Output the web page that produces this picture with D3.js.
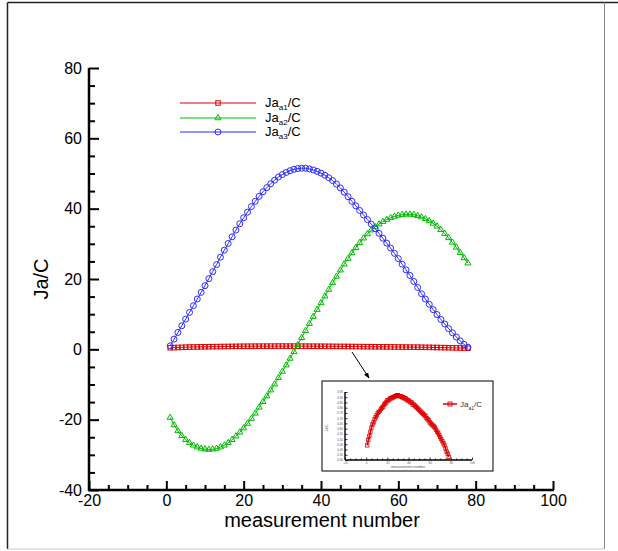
<!DOCTYPE html>
<html>
<head>
<meta charset="utf-8">
<script src="https://cdn.jsdelivr.net/npm/d3@7/dist/d3.min.js"></script>
<style>
  html, body { margin: 0; padding: 0; background: #fff; }
  svg { display: block; font-family: "Liberation Sans", Arial, Helvetica, sans-serif; }
</style>
</head>
<body>
<svg id="chart" width="618" height="551"></svg>
<script>
// measurement numbers 1..78
const measurement = [
  1,2,3,4,5,6,7,8,9,10,11,12,13,14,15,16,17,18,19,20,
  21,22,23,24,25,26,27,28,29,30,31,32,33,34,35,36,37,38,39,40,
  41,42,43,44,45,46,47,48,49,50,51,52,53,54,55,56,57,58,59,60,
  61,62,63,64,65,66,67,68,69,70,71,72,73,74,75,76,77,78
];

// Ja_a1 / C
const jaA1 = [
  0.44,0.49,0.53,0.57,0.61,0.64,0.66,0.69,0.71,0.73,
  0.75,0.76,0.77,0.79,0.80,0.81,0.83,0.84,0.85,0.87,
  0.87,0.88,0.89,0.89,0.90,0.90,0.91,0.91,0.92,0.92,
  0.91,0.91,0.91,0.90,0.90,0.89,0.89,0.88,0.87,0.87,
  0.86,0.85,0.85,0.83,0.83,0.82,0.81,0.80,0.79,0.78,
  0.77,0.76,0.75,0.74,0.73,0.72,0.70,0.69,0.68,0.66,
  0.65,0.64,0.63,0.62,0.61,0.59,0.57,0.56,0.54,0.52,
  0.50,0.48,0.46,0.44,0.41,0.38,0.36,0.33
];

// Ja_a2 / C
const jaA2 = [
  -19.4,-21.5,-23.2,-24.6,-25.7,-26.6,-27.3,-27.8,-28.2,-28.4,
  -28.5,-28.4,-28.2,-27.8,-27.3,-26.6,-25.7,-24.7,-23.6,-22.4,
  -21.1,-19.7,-18.2,-16.5,-14.9,-13.3,-11.6,-9.9,-8.1,-6.3,
  -4.5,-2.6,-0.7,1.3,3.3,5.3,7.3,9.3,11.3,13.2,
  15.1,17.0,18.9,20.7,22.5,24.2,25.8,27.4,28.9,30.3,
  31.6,32.8,33.9,34.8,35.6,36.3,36.9,37.4,37.8,38.1,
  38.3,38.4,38.4,38.3,38.0,37.6,37.1,36.5,35.8,35.0,
  34.0,32.9,31.7,30.4,29.0,27.5,26.0,24.5
];

// Ja_a3 / C
const jaA3 = [
  1.0,2.9,4.8,6.7,8.6,10.5,12.4,14.3,16.2,18.1,
  20.1,22.1,24.1,26.2,28.2,30.1,32.0,33.9,35.7,37.4,
  39.0,40.6,42.1,43.5,44.8,46.0,47.1,48.1,49.0,49.7,
  50.3,50.8,51.2,51.4,51.5,51.5,51.3,51.0,50.6,50.1,
  49.5,48.8,48.0,47.0,45.9,44.7,43.4,42.1,40.8,39.5,
  38.2,36.9,35.6,34.3,33.0,31.6,30.2,28.8,27.3,25.8,
  24.2,22.6,21.0,19.3,17.6,15.8,14.3,12.8,11.3,9.9,
  8.5,7.2,5.9,4.7,3.5,2.4,1.4,0.6
];

const xMajorTicks = [-20, 0, 20, 40, 60, 80, 100];
const yMajorTicks = [-40, -20, 0, 20, 40, 60, 80];
const insetYTicks = [0.30,0.35,0.40,0.45,0.50,0.55,0.60,0.65,0.70,0.75,0.80,0.85,0.90,0.95];

const RED = "#dd0000", GREEN = "#00bb00", BLUE = "#2b2bff";
const plain = d => String(d);

const svg = d3.select("#chart");

// outer frame
svg.append("line").attr("x1", 7.5).attr("x2", 618).attr("y1", 2.5).attr("y2", 2.5)
  .attr("stroke", "#222").attr("stroke-width", 1.5);
svg.append("line").attr("x1", 7.5).attr("x2", 7.5).attr("y1", 2.5).attr("y2", 549)
  .attr("stroke", "#222").attr("stroke-width", 1.5);
svg.append("line").attr("x1", 7.5).attr("x2", 604).attr("y1", 549).attr("y2", 549)
  .attr("stroke", "#ccc").attr("stroke-width", 1);
svg.append("line").attr("x1", 604.5).attr("x2", 604.5).attr("y1", 2.5).attr("y2", 549)
  .attr("stroke", "#888").attr("stroke-width", 1);

const x = d3.scaleLinear().domain([-20, 100]).range([89, 553]);
const y = d3.scaleLinear().domain([-40, 80]).range([490, 68]);

const minorX = d3.range(-20, 101, 5).filter(v => v % 20 !== 0);
const minorY = d3.range(-40, 81, 5).filter(v => v % 20 !== 0);

// y axis: ticks pointing inward
const gy = svg.append("g").attr("transform", `translate(${x(-20)},0)`);
gy.call(d3.axisLeft(y).tickValues(yMajorTicks).tickSizeInner(-10).tickSizeOuter(0).tickPadding(7).tickFormat(plain));
gy.append("g").call(d3.axisLeft(y).tickValues(minorY).tickSizeInner(-6).tickSizeOuter(0).tickFormat(""));
gy.selectAll("path.domain").remove();
gy.selectAll("line").attr("stroke", "#000").attr("stroke-width", 2);
gy.selectAll("text").attr("font-size", 16).attr("fill", "#000")
  .attr("font-family", "Liberation Sans, Arial, sans-serif");

// x axis: ticks pointing inward
const gx = svg.append("g").attr("transform", `translate(0,${y(-40)})`);
gx.call(d3.axisBottom(x).tickValues(xMajorTicks).tickSizeInner(-9).tickSizeOuter(0).tickPadding(5).tickFormat(plain));
gx.append("g").call(d3.axisBottom(x).tickValues(minorX).tickSizeInner(-5).tickSizeOuter(0).tickFormat(""));
gx.selectAll("path.domain").remove();
gx.selectAll("line").attr("stroke", "#000").attr("stroke-width", 2);
gx.selectAll("text").attr("font-size", 16).attr("fill", "#000")
  .attr("font-family", "Liberation Sans, Arial, sans-serif");

// axis lines
svg.append("line").attr("x1", x(-20)).attr("x2", x(-20)).attr("y1", y(80)).attr("y2", y(-40) + 1)
  .attr("stroke", "#000").attr("stroke-width", 2.5);
svg.append("line").attr("x1", x(-20) - 1).attr("x2", x(100) + 1).attr("y1", y(-40)).attr("y2", y(-40))
  .attr("stroke", "#000").attr("stroke-width", 2.5);

// axis titles
svg.append("text").attr("x", 322).attr("y", 527).attr("text-anchor", "middle")
  .attr("font-size", 20).text("measurement number");
svg.append("text").attr("transform", `translate(48,${y(20)}) rotate(-90)`).attr("text-anchor", "middle")
  .attr("font-size", 20).text("Ja/C");

// marker shapes
const sq = (g, s, color) => g.append("rect").attr("x", -s / 2).attr("y", -s / 2).attr("width", s).attr("height", s)
  .attr("fill", "none").attr("stroke", color).attr("stroke-width", 1);
const tri = (g, s, color) => g.append("path").attr("d", d3.symbol(d3.symbolTriangle, s)())
  .attr("fill", "none").attr("stroke", color).attr("stroke-width", 1);
const circ = (g, r, color) => g.append("circle").attr("r", r)
  .attr("fill", "none").attr("stroke", color).attr("stroke-width", 1);

const series = [
  { values: jaA1, color: RED, marker: (g) => sq(g, 4.5, RED), sub: "a1" },
  { values: jaA2, color: GREEN, marker: (g) => tri(g, 16, GREEN), sub: "a2" },
  { values: jaA3, color: BLUE, marker: (g) => circ(g, 3, BLUE), sub: "a3" }
];

const line = d3.line().x(d => x(d[0])).y(d => y(d[1]));

series.forEach(s => {
  const pts = measurement.map((m, i) => [m, s.values[i]]);
  svg.append("path").datum(pts).attr("d", line).attr("fill", "none")
    .attr("stroke", s.color).attr("stroke-width", 1);
  const g = svg.append("g");
  pts.forEach(p => {
    const mg = g.append("g").attr("transform", `translate(${x(p[0])},${y(p[1])})`);
    s.marker(mg);
  });
});

// legend
const legendY = [103, 118, 132];
series.forEach((s, i) => {
  const ly = legendY[i];
  svg.append("line").attr("x1", 180).attr("x2", 256).attr("y1", ly).attr("y2", ly)
    .attr("stroke", s.color).attr("stroke-width", 1);
  const mg = svg.append("g").attr("transform", `translate(218,${ly})`);
  s.marker(mg);
  const t = svg.append("text").attr("x", 265).attr("y", ly + 4).attr("font-size", 13).attr("fill", "#000");
  t.append("tspan").text("Ja");
  t.append("tspan").attr("font-size", 8).attr("dy", 3).text(s.sub);
  t.append("tspan").attr("dy", -3).text("/C");
});

// pointer arrow to inset
svg.append("defs").append("marker").attr("id", "arrowhead")
  .attr("viewBox", "0 0 10 10").attr("refX", 9).attr("refY", 5)
  .attr("markerWidth", 6).attr("markerHeight", 6).attr("orient", "auto")
  .append("path").attr("d", "M0,1 L10,5 L0,9 Z").attr("fill", "#000");
svg.append("line").attr("x1", 352).attr("y1", 352).attr("x2", 369).attr("y2", 378)
  .attr("stroke", "#000").attr("stroke-width", 1).attr("marker-end", "url(#arrowhead)");

// inset: magnified view of Ja_a1/C
const inset = svg.append("g");
inset.append("rect").attr("x", 322).attr("y", 381).attr("width", 171).attr("height", 90)
  .attr("fill", "#fff").attr("stroke", "#000").attr("stroke-width", 1);

const ix = d3.scaleLinear().domain([-20, 100]).range([345, 472]);
const iy = d3.scaleLinear().domain([0.30, 0.95]).range([460, 392]);

const igy = inset.append("g").attr("transform", `translate(${ix(-20)},0)`);
igy.call(d3.axisLeft(iy).tickValues(insetYTicks).tickSizeInner(-2.5).tickSizeOuter(0).tickPadding(2).tickFormat(d3.format(".2f")));
igy.selectAll("path.domain").remove();
igy.selectAll("line").attr("stroke", "#000").attr("stroke-width", 0.8);
igy.selectAll("text").attr("font-size", 3).attr("fill", "#555");

const igx = inset.append("g").attr("transform", `translate(0,${iy(0.30)})`);
igx.call(d3.axisBottom(ix).tickValues(xMajorTicks).tickSizeInner(-2.5).tickSizeOuter(0).tickPadding(1.5).tickFormat(plain));
igx.append("g").call(d3.axisBottom(ix).tickValues(minorX).tickSizeInner(-1.5).tickSizeOuter(0).tickFormat(""));
igx.selectAll("path.domain").remove();
igx.selectAll("line").attr("stroke", "#000").attr("stroke-width", 0.8);
igx.selectAll("text").attr("font-size", 3).attr("fill", "#555");

inset.append("line").attr("x1", ix(-20)).attr("x2", ix(-20)).attr("y1", iy(0.95)).attr("y2", iy(0.30))
  .attr("stroke", "#000").attr("stroke-width", 1.4);
inset.append("line").attr("x1", ix(-20)).attr("x2", ix(100)).attr("y1", iy(0.30)).attr("y2", iy(0.30))
  .attr("stroke", "#000").attr("stroke-width", 1.4);

inset.append("text").attr("x", 408).attr("y", 468).attr("text-anchor", "middle")
  .attr("font-size", 3.5).attr("fill", "#555").text("measurement number");
inset.append("text").attr("transform", `translate(328,428) rotate(-90)`).attr("text-anchor", "middle")
  .attr("font-size", 3.5).attr("fill", "#555").text("Ja/C");

const iline = d3.line().x(d => ix(d[0])).y(d => iy(d[1]));
const ipts = measurement.map((m, i) => [m, jaA1[i]]);
inset.append("path").datum(ipts).attr("d", iline).attr("fill", "none")
  .attr("stroke", RED).attr("stroke-width", 1.5);
ipts.forEach(p => {
  inset.append("rect").attr("x", ix(p[0]) - 1.7).attr("y", iy(p[1]) - 1.7)
    .attr("width", 3.4).attr("height", 3.4).attr("fill", "none")
    .attr("stroke", RED).attr("stroke-width", 0.8);
});

// inset legend
inset.append("line").attr("x1", 443).attr("x2", 457).attr("y1", 404).attr("y2", 404)
  .attr("stroke", RED).attr("stroke-width", 1.5);
inset.append("rect").attr("x", 448).attr("y", 402).attr("width", 4).attr("height", 4)
  .attr("fill", "none").attr("stroke", RED).attr("stroke-width", 0.9);
const it = inset.append("text").attr("x", 460).attr("y", 407).attr("font-size", 8).attr("fill", "#333");
it.append("tspan").text("Ja");
it.append("tspan").attr("font-size", 5).attr("dy", 2.5).text("a1");
it.append("tspan").attr("dy", -2.5).text("/C");
</script>
</body>
</html>
